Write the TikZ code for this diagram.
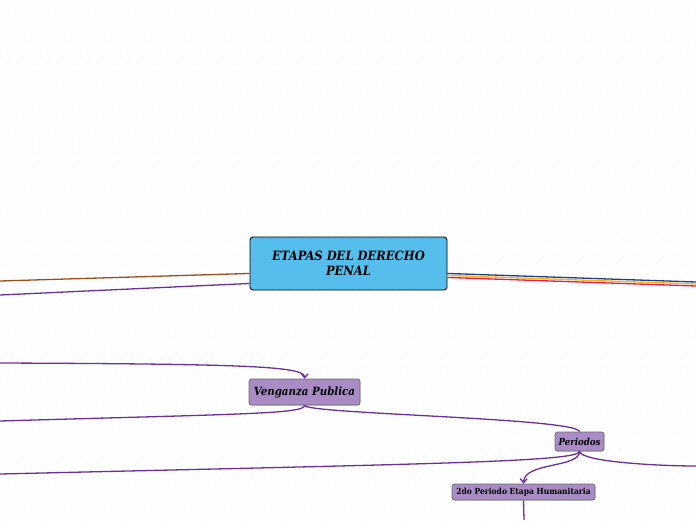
\documentclass[tikz,border=0pt]{standalone}
\usepackage{fontspec}
\setmainfont{DejaVu Serif}
\newfontfamily\narrowserif{DejaVu Serif Condensed}
\usepackage{xcolor}
\usetikzlibrary{arrows.meta, positioning, calc, shadows}

\definecolor{skyfill}{HTML}{55BEEC}
\definecolor{lavfill}{HTML}{A98BC6}
\definecolor{lavline}{HTML}{6A6A6A}
\definecolor{linkpurple}{HTML}{6A2F9A}
\definecolor{linkbrown}{HTML}{9B4F1E}
\definecolor{linknavy}{HTML}{1F3C88}
\definecolor{linkgold}{HTML}{F5B800}
\definecolor{linkpink}{HTML}{E8185A}

\begin{document}
\begin{tikzpicture}[
    x=1pt, y=-1pt,
    root/.style={rectangle, draw=black, line width=0.9pt, rounded corners=3pt, fill=skyfill,
        minimum width=197pt, minimum height=53pt, align=center, inner sep=2pt,
        font=\narrowserif\fontsize{12.8}{15}\selectfont\bfseries\itshape},
    topic/.style={rectangle, draw=lavline, line width=0.7pt, rounded corners=2.5pt, fill=lavfill,
        drop shadow={shadow xshift=0.6pt, shadow yshift=-0.8pt, opacity=0.25},
        align=center, inner sep=1pt},
    link/.style={linkpurple, line width=1.3pt},
    arrow/.style={link, -{Straight Barb[length=4pt, width=7pt]}}
]
    \useasboundingbox (0,0) rectangle (696,520);
    \fill[white] (0,0) rectangle (696,520);
    \begin{scope}
        \clip (0,0) rectangle (696,520);
        \foreach \i in {-520,-510,...,700}
            \draw[gray!14, line width=0.4pt, densely dotted] (\i,520) -- ++(520,-520);
    \end{scope}

    \node[root] (etapas) at (348.5,263.5) {ETAPAS DEL DERECHO\\PENAL};
    \node[topic, minimum width=111pt, minimum height=26pt,
        font=\narrowserif\fontsize{11.4}{13}\selectfont\bfseries\itshape] (publica) at (304.5,392) {Venganza Publica};
    \node[topic, minimum width=49pt, minimum height=19pt,
        font=\narrowserif\fontsize{9.6}{11}\selectfont\bfseries\itshape] (periodos) at (579.5,441.5) {Periodos};
    \node[topic, minimum width=143pt, minimum height=16pt,
        font=\narrowserif\fontsize{8.4}{10}\selectfont\bfseries] (humanitaria) at (523.5,492) {2do Periodo Etapa Humanitaria};

    \coordinate (brownend) at (0,281);
    \coordinate (purpleend) at (0,295);
    \coordinate (navyend) at (696,282);
    \coordinate (goldend) at (696,284);
    \coordinate (pinkend) at (696,286);
    \coordinate (privada) at (0,363);
    \coordinate (publicaend) at (0,421);
    \coordinate (leftend) at (0,474);
    \coordinate (rightend) at (696,466);
    \coordinate (downend) at (524,520);

    \draw[linkbrown, line width=1.3pt] ($(etapas.south west)+(0,-17)$) -- (brownend);
    \draw[link] ($(etapas.south west)+(0,-7)$) -- (purpleend);
    \draw[linknavy, line width=1.3pt] ($(etapas.south east)+(0,-17)$) -- (navyend);
    \draw[linkgold, line width=1.3pt] ($(etapas.south east)+(0,-15)$) -- (goldend);
    \draw[linkpink, line width=1.3pt] ($(etapas.south east)+(0,-13)$) -- (pinkend);

    \draw[arrow] (privada) .. controls (240,364) and (305,366) .. (publica.north);
    \draw[link] (publica.south) .. controls (305,414) and (240,414) .. (publicaend);
    \draw[link] (publica.south) .. controls (306,414) and (578,418) .. (periodos.north);
    \draw[link] (periodos.south) .. controls (580,462) and (420,464) .. (leftend);
    \draw[link] (periodos.south) .. controls (581,462) and (660,466) .. (rightend);
    \draw[arrow] (periodos.south) .. controls (580,468) and (524,462) .. (humanitaria.north);
    \draw[link] (humanitaria.south) -- (downend);
\end{tikzpicture}
\end{document}
